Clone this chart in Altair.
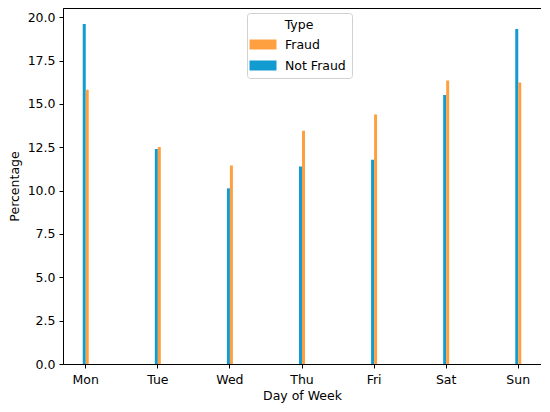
import altair as alt
import pandas as pd

days = ["Mon", "Tue", "Wed", "Thu", "Fri", "Sat", "Sun"]
not_fraud = [19.61, 12.40, 10.13, 11.39, 11.78, 15.52, 19.32]
fraud = [15.81, 12.51, 11.45, 13.45, 14.39, 16.35, 16.23]

rows = []
for d, nf, f in zip(days, not_fraud, fraud):
    rows.append({"Day": d, "Type": "Not Fraud", "Percentage": nf})
    rows.append({"Day": d, "Type": "Fraud", "Percentage": f})
df = pd.DataFrame(rows)

font = "DejaVu Sans"
fs = 12.5

chart = alt.Chart(df).mark_bar().encode(
    x=alt.X("Day:N", sort=days,
            scale=alt.Scale(paddingInner=0.917, paddingOuter=0.274),
            axis=alt.Axis(title="Day of Week", labelAngle=0, tickSize=4,
                          labelPadding=5, titlePadding=4, domainColor="black",
                          tickColor="black")),
    xOffset=alt.XOffset("Type:N", scale=alt.Scale(domain=["Not Fraud", "Fraud"])),
    y=alt.Y("Percentage:Q",
            scale=alt.Scale(domain=[0, 20.53], nice=False),
            axis=alt.Axis(title="Percentage", values=[0, 2.5, 5, 7.5, 10, 12.5, 15, 17.5, 20],
                          format=".1f", grid=False, tickSize=4, labelPadding=4,
                          titlePadding=6, domainColor="black", tickColor="black")),
    color=alt.Color("Type:N",
                    scale=alt.Scale(domain=["Fraud", "Not Fraud"], range=["#ffa040", "#129bd0"]),
                    legend=alt.Legend(orient="none", legendX=184, legendY=5, title="Type",
                                      titleAnchor="middle", titleAlign="center",
                                      symbolType="M-1.35,-0.5H1.35V0.5H-1.35Z",
                                      symbolSize=400, symbolStrokeWidth=0,
                                      labelOffset=12, titlePadding=3,
                                      fillColor="white", strokeColor="#d0d0d0",
                                      cornerRadius=3, padding=6, rowPadding=4,
                                      labelFontSize=fs, titleFontSize=fs,
                                      titleFontWeight="normal", labelFont=font,
                                      titleFont=font, labelColor="black", titleColor="black")),
).properties(
    width=478, height=356,
    autosize=alt.AutoSizeParams(type="none"),
    padding={"left": 55, "top": 0, "right": 0, "bottom": 40},
).configure_view(
    stroke="black", strokeWidth=1
).configure_axis(
    labelFont=font, titleFont=font, labelFontSize=fs, titleFontSize=fs,
    titleFontWeight="normal", labelColor="black", titleColor="black"
)

chart.save("out.html", embed_options={"renderer": "svg", "actions": False})
